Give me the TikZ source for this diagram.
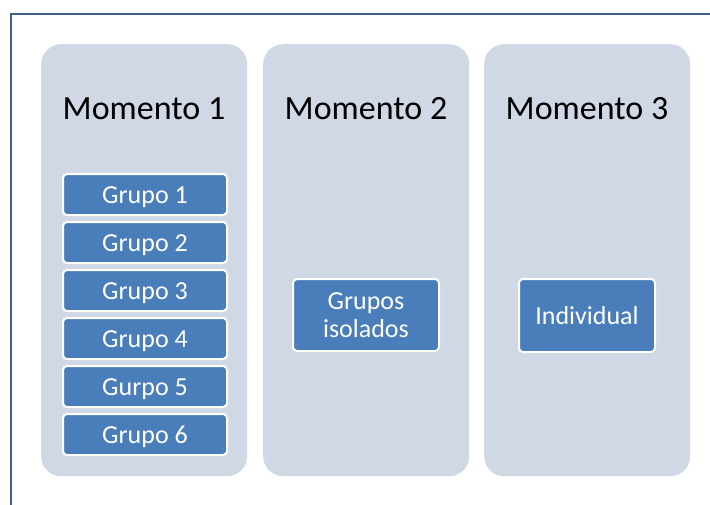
\documentclass[tikz,border=0pt]{standalone}
\usepackage{fontspec}
\setmainfont{Carlito}
\definecolor{framecol}{HTML}{3E6190}
\definecolor{panelcol}{HTML}{D0D7E5}
\definecolor{boxcol}{HTML}{4A7EBB}
\tikzset{
  panel/.style={fill=panelcol, draw=none, rounded corners=20pt, anchor=north west,
    minimum width=206pt, minimum height=432pt, inner sep=0pt},
  title/.style={font=\fontsize{34}{40}\selectfont, text=black, inner sep=0pt},
  gbox/.style={fill=boxcol, draw=white, line width=2pt, rounded corners=4pt,
    text=white, font=\fontsize{26}{28}\selectfont, align=center, inner sep=0pt},
  onerow/.style={gbox, text height=18pt, text depth=0pt},
}
\begin{document}
\begin{tikzpicture}[x=1pt, y=-1pt]
  \useasboundingbox (0,0) rectangle (710,504);
  \fill[white] (0,0) rectangle (710,504);
  % outer frame: left and top edges
  \draw[framecol, line width=2pt] (11,510) -- (11,14) -- (716,14);

  % three columns
  \node[panel] (p1) at (41,44) {};
  \node[panel] (p2) at (263,44) {};
  \node[panel] (p3) at (484,44) {};

  \node[title] (t1) at (144,109) {Momento 1};
  \node[title] (t2) at (366,109) {Momento 2};
  \node[title] (t3) at (587,109) {Momento 3};

  % groups of the first moment
  \node[onerow, minimum width=164pt, minimum height=41pt] (g1) at (145,194.5) {Grupo 1};
  \node[onerow, minimum width=164pt, minimum height=41pt] (g2) at (145,242.5) {Grupo 2};
  \node[onerow, minimum width=164pt, minimum height=41pt] (g3) at (145,290.5) {Grupo 3};
  \node[onerow, minimum width=164pt, minimum height=41pt] (g4) at (145,338.5) {Grupo 4};
  \node[onerow, minimum width=164pt, minimum height=41pt] (g5) at (145,386.5) {Gurpo 5};
  \node[onerow, minimum width=164pt, minimum height=41pt] (g6) at (145,434.5) {Grupo 6};

  \node[gbox, minimum width=146pt, minimum height=72pt] (iso) at (366,315) {Grupos\\isolados};
  \node[onerow, minimum width=136pt, minimum height=73pt] (ind) at (587,315.5) {Individual};
\end{tikzpicture}
\end{document}
